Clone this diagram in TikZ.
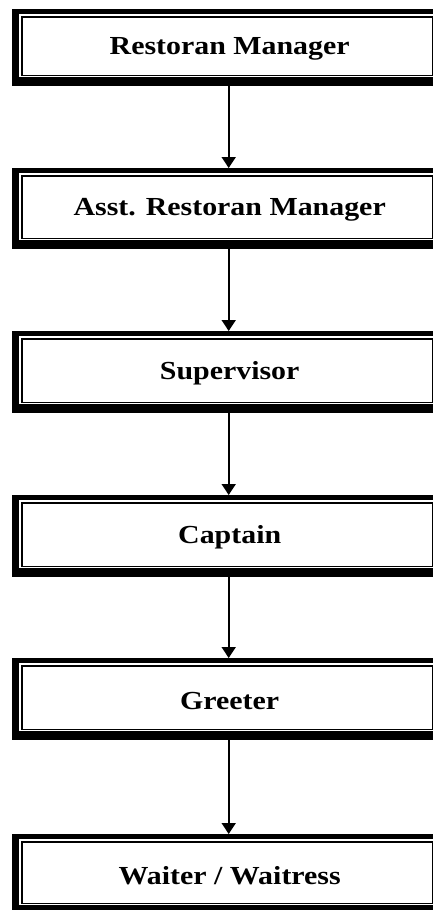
\documentclass[tikz,border=0pt]{standalone}
\usepackage{fontspec}
\setmainfont{Liberation Serif}
\newfontfamily\boxfont[FakeStretch=1.15]{Liberation Serif}
\usetikzlibrary{arrows.meta}
\tikzset{
  outerbox/.style={rectangle, fill=black, inner sep=0pt, minimum width=433pt, anchor=north west},
  innerline/.style={line width=1.8pt},
  boxtext/.style={font=\boxfont\bfseries\fontsize{26}{30}\selectfont, inner sep=0pt},
  conn/.style={line width=1.8pt, -{Triangle[length=11pt,width=14pt]}}
}
\newcommand{\roleBox}[4]{%
  \node[outerbox, minimum height=#3pt-#2pt] (#1) at (12pt,-#2pt) {};
  \fill[white] ([xshift=7pt,yshift=-5pt]#1.north west) rectangle ([xshift=-9pt,yshift=9pt]#1.south east);
  \draw[innerline] ([xshift=10pt,yshift=-8pt]#1.north west) rectangle ([xshift=-13pt,yshift=11pt]#1.south east);
  \node[boxtext] (#1t) at ([xshift=1pt,yshift=-1.5pt]#1.center) {#4};
}
\begin{document}
\begin{tikzpicture}[x=1pt,y=1pt]
\useasboundingbox (0,0) rectangle (433,-910);
\clip (0,0) rectangle (433,-910);
\fill[white] (0,0) rectangle (433,-910);
\roleBox{b1}{9}{86}{Restoran Manager}
\roleBox{b2}{168}{249}{Asst. Restoran Manager}
\roleBox{b3}{331}{413}{Supervisor}
\roleBox{b4}{495}{577}{Captain}
\roleBox{b5}{658}{740}{Greeter}
\roleBox{b6}{834}{914}{Waiter / Waitress}
\draw[conn] (b1.south) -- (b2.north);
\draw[conn] (b2.south) -- (b3.north);
\draw[conn] (b3.south) -- (b4.north);
\draw[conn] (b4.south) -- (b5.north);
\draw[conn] (b5.south) -- (b6.north);
\end{tikzpicture}
\end{document}
